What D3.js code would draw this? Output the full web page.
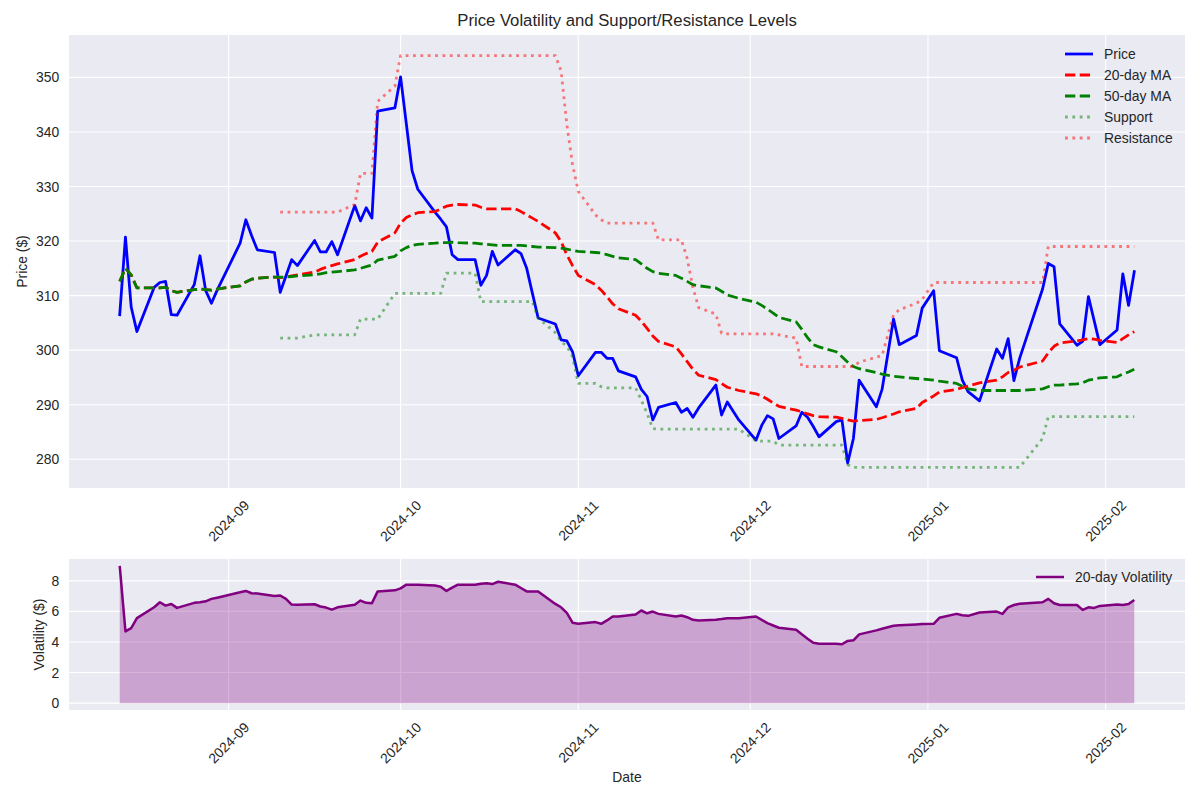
<!DOCTYPE html>
<html><head><meta charset="utf-8">
<script src="https://cdn.jsdelivr.net/npm/d3@7"></script>
<style>
body{margin:0;background:#fff;}
text{font-family:"Liberation Sans",Arial,sans-serif;fill:#262626;}
</style>
</head><body>
<svg id="c" width="1200" height="800"></svg>
<script>
// ---------- data (trading days) ----------
const dates = [
"2024-08-13","2024-08-14","2024-08-15","2024-08-16","2024-08-19","2024-08-20","2024-08-21","2024-08-22","2024-08-23","2024-08-26","2024-08-27","2024-08-28","2024-08-29","2024-08-30",
"2024-09-03","2024-09-04","2024-09-05","2024-09-06","2024-09-09","2024-09-10","2024-09-11","2024-09-12","2024-09-13","2024-09-16","2024-09-17","2024-09-18","2024-09-19","2024-09-20","2024-09-23","2024-09-24","2024-09-25","2024-09-26","2024-09-27","2024-09-30",
"2024-10-01","2024-10-02","2024-10-03","2024-10-04","2024-10-07","2024-10-08","2024-10-09","2024-10-10","2024-10-11","2024-10-14","2024-10-15","2024-10-16","2024-10-17","2024-10-18","2024-10-21","2024-10-22","2024-10-23","2024-10-24","2024-10-25","2024-10-28","2024-10-29","2024-10-30","2024-10-31",
"2024-11-01","2024-11-04","2024-11-05","2024-11-06","2024-11-07","2024-11-08","2024-11-11","2024-11-12","2024-11-13","2024-11-14","2024-11-15","2024-11-18","2024-11-19","2024-11-20","2024-11-21","2024-11-22","2024-11-25","2024-11-26","2024-11-27","2024-11-29",
"2024-12-02","2024-12-03","2024-12-04","2024-12-05","2024-12-06","2024-12-09","2024-12-10","2024-12-11","2024-12-12","2024-12-13","2024-12-16","2024-12-17","2024-12-18","2024-12-19","2024-12-20","2024-12-23","2024-12-24","2024-12-26","2024-12-27","2024-12-30","2024-12-31",
"2025-01-02","2025-01-03","2025-01-06","2025-01-07","2025-01-08","2025-01-10","2025-01-13","2025-01-14","2025-01-15","2025-01-16","2025-01-17","2025-01-21","2025-01-22","2025-01-23","2025-01-24","2025-01-27","2025-01-28","2025-01-29","2025-01-30","2025-01-31",
"2025-02-03","2025-02-04","2025-02-05","2025-02-06"];

const price = [
306.5,320.7,307.9,303.4,311.5,312.4,312.6,306.5,306.4,312.0,317.3,310.9,308.6,311.0,
319.6,323.9,321.0,318.4,317.9,310.6,313.6,316.6,315.5,320.1,318.0,318.0,319.9,317.5,326.5,323.7,326.1,324.2,343.8,344.4,
350.1,341.5,332.9,329.5,325.3,324.0,322.6,317.5,316.6,316.6,311.9,313.7,318.1,315.6,318.4,317.7,315.0,310.4,305.9,304.8,301.9,301.7,299.7,
295.3,299.6,299.6,298.5,298.5,296.2,295.1,292.8,291.5,287.2,289.5,290.4,288.6,289.3,287.7,289.4,293.6,288.1,290.5,287.2,
283.5,286.2,288.0,287.4,283.8,286.1,288.6,287.7,286.0,284.1,286.9,287.2,279.3,283.8,294.5,289.6,292.8,305.7,301.0,302.7,307.7,
310.9,299.9,298.6,294.5,292.4,290.7,300.2,298.5,302.1,294.4,298.5,311.2,315.9,315.3,304.8,300.9,301.6,309.8,305.4,301.0,
303.7,314.0,308.2,314.4];

const ma20 = [
312.6,315.0,313.8,311.4,311.4,311.4,311.5,310.9,310.6,311.1,311.2,311.1,311.0,311.2,
311.8,312.5,313.0,313.2,313.4,313.3,313.4,313.6,313.8,314.3,314.8,315.2,315.5,315.8,316.6,317.2,317.7,318.1,319.8,321.5,
323.3,324.3,324.8,325.2,325.4,325.9,326.4,326.6,326.7,326.6,326.2,325.9,325.9,325.9,325.9,325.4,324.8,324.2,323.6,321.5,319.9,317.5,315.5,
313.7,312.0,311.0,309.8,308.5,307.6,306.4,305.3,304.0,302.6,301.6,300.6,299.3,297.9,296.5,295.4,294.6,293.9,293.2,292.6,
292.0,291.6,291.0,290.3,289.7,289.0,288.7,288.3,288.0,287.8,287.7,287.5,287.2,287.0,287.1,287.3,287.6,288.3,288.7,289.3,290.4,
291.6,292.3,292.8,293.1,293.4,294.0,294.5,295.1,295.9,296.3,296.9,298.0,299.5,300.7,301.3,301.7,301.9,302.1,302.0,301.8,
301.4,302.1,302.8,303.4];

const ma50 = [
312.6,315.0,313.8,311.4,311.4,311.4,311.5,310.9,310.6,311.1,311.2,311.1,311.0,311.2,
311.8,312.5,313.0,313.2,313.4,313.4,313.4,313.5,313.6,313.8,314.0,314.2,314.3,314.4,314.7,315.0,315.3,315.6,316.5,317.2,
318.2,318.8,319.2,319.4,319.6,319.7,319.7,319.8,319.7,319.6,319.5,319.4,319.3,319.2,319.2,319.2,319.1,319.0,318.9,318.8,318.7,318.5,318.3,
318.1,317.9,317.8,317.5,317.2,316.9,316.6,315.8,315.0,314.4,314.1,313.7,313.2,312.6,312.0,311.8,311.4,310.8,310.1,309.5,
308.8,308.2,307.5,306.8,306.0,305.2,303.8,302.3,301.0,300.6,299.7,298.8,297.8,297.0,296.6,295.9,295.6,295.2,295.1,294.8,294.7,
294.5,294.3,293.9,293.4,292.9,292.6,292.6,292.6,292.6,292.6,292.6,292.9,293.3,293.6,293.6,293.8,294.0,294.5,294.7,294.9,
295.1,295.6,296.0,296.5];

const support = [
null,null,null,null,null,null,null,null,null,null,null,null,null,null,
null,null,null,null,null,302.2,302.2,302.2,302.2,302.8,302.8,302.8,302.8,302.8,302.8,305.7,305.7,305.7,305.7,310.4,
310.4,310.4,310.4,310.4,310.4,310.4,314.1,314.1,314.1,314.1,308.9,308.9,308.9,308.9,308.9,308.9,308.9,308.9,305.9,303.2,301.6,300.7,298.8,
293.9,293.9,293.3,293.1,293.1,293.1,293.1,290.8,288.4,285.6,285.5,285.5,285.5,285.5,285.5,285.5,285.5,285.5,285.5,285.5,
283.4,283.3,283.3,283.3,282.6,282.6,282.6,282.6,282.6,282.6,282.6,282.6,279.0,278.5,278.5,278.5,278.5,278.5,278.5,278.5,278.5,
278.5,278.5,278.5,278.5,278.5,278.5,278.5,278.5,278.5,278.5,278.5,283.8,287.8,287.8,287.8,287.8,287.8,287.8,287.8,287.8,
287.8,287.8,287.8,287.8];

const resistance = [
null,null,null,null,null,null,null,null,null,null,null,null,null,null,
null,null,null,null,null,325.3,325.3,325.3,325.3,325.3,325.3,325.3,325.3,325.3,326.7,332.4,332.4,332.4,345.6,348.4,
354.0,354.0,354.0,354.0,354.0,354.0,354.0,354.0,354.0,354.0,354.0,354.0,354.0,354.0,354.0,354.0,354.0,354.0,354.0,354.0,351.2,341.4,334.0,
329.1,324.8,323.9,323.3,323.3,323.3,323.3,323.3,323.3,323.3,320.2,320.2,320.2,316.8,311.5,307.8,306.6,303.1,303.0,303.0,
303.0,303.0,303.0,303.0,302.8,302.2,297.0,297.0,297.0,297.0,297.0,297.0,297.0,297.0,297.8,298.7,299.0,306.5,307.4,308.6,309.3,
312.4,312.4,312.4,312.4,312.4,312.4,312.4,312.4,312.4,312.4,312.4,312.4,319.0,319.0,319.0,319.0,319.0,319.0,319.0,319.0,
319.0,319.0,319.0,319.0];

const volatility = [
8.98,4.69,4.91,5.56,6.27,6.60,6.38,6.49,6.23,6.56,6.60,6.66,6.82,6.90,
7.25,7.34,7.19,7.17,7.01,7.04,6.82,6.45,6.43,6.47,6.32,6.25,6.12,6.27,6.43,6.71,6.56,6.54,7.31,7.38,
7.51,7.75,7.75,7.75,7.70,7.62,7.34,7.56,7.75,7.75,7.81,7.84,7.79,7.94,7.75,7.53,7.31,7.31,7.31,6.49,6.27,5.90,5.26,
5.19,5.30,5.19,5.41,5.67,5.67,5.80,6.06,5.88,5.99,5.84,5.67,5.73,5.62,5.45,5.41,5.45,5.50,5.56,5.56,
5.67,5.45,5.23,5.08,4.93,4.80,4.50,4.22,3.95,3.89,3.88,3.85,4.07,4.11,4.50,4.76,4.87,5.06,5.10,5.15,5.17,
5.19,5.58,5.84,5.75,5.71,5.93,5.99,5.84,6.27,6.42,6.50,6.60,6.82,6.53,6.42,6.42,6.10,6.27,6.23,6.36,
6.45,6.42,6.49,6.75];

const priceTicks = [280,290,300,310,320,330,340,350];
const volTicks = [0,2,4,6,8];
const legendTop = ["Price","20-day MA","50-day MA","Support","Resistance"];
const legendBottom = ["20-day Volatility"];

// ---------- layout ----------
const svg = d3.select("#c");
const parse = d3.utcParse("%Y-%m-%d");
const D = dates.map(parse);
const DAY = 864e5;
const A1 = {l:69, r:1185, t:35, b:488};
const A2 = {l:69, r:1185, t:559, b:710};
const BG = "#EAEAF2";
const FS = 13.9;

const span = D[D.length-1] - D[0];
const x = d3.scaleUtc()
  .domain([new Date(+D[0] - span*0.05), new Date(+D[D.length-1] + span*0.05)])
  .range([A1.l, A1.r]);

const allP = price.concat(ma20, ma50, support, resistance).filter(v => v != null);
const pmin = d3.min(allP), pmax = d3.max(allP), pp = (pmax - pmin) * 0.05;
const y = d3.scaleLinear().domain([pmin - pp, pmax + pp]).range([A1.b, A1.t]);
const vmax = d3.max(volatility), vp = vmax * 0.05;
const yv = d3.scaleLinear().domain([0 - vp, vmax + vp]).range([A2.b, A2.t]);

const monthTicks = d3.utcMonth.range(d3.utcMonth.ceil(x.domain()[0]), x.domain()[1]);
const fmt = d3.utcFormat("%Y-%m");

function panel(A, ys, yt, yfmt) {
  svg.append("rect").attr("x", A.l).attr("y", A.t).attr("width", A.r - A.l).attr("height", A.b - A.t).attr("fill", BG);
  const g = svg.append("g");
  g.selectAll(".gx").data(monthTicks).join("line")
    .attr("x1", d => x(d)).attr("x2", d => x(d)).attr("y1", A.t).attr("y2", A.b)
    .attr("stroke", "#fff").attr("stroke-width", 1.1);
  g.selectAll(".gy").data(yt).join("line")
    .attr("x1", A.l).attr("x2", A.r).attr("y1", d => ys(d)).attr("y2", d => ys(d))
    .attr("stroke", "#fff").attr("stroke-width", 1.1);
  // y tick labels
  svg.append("g").selectAll("text").data(yt).join("text")
    .attr("x", A.l - 9.7).attr("y", d => ys(d)).attr("text-anchor", "end")
    .attr("dominant-baseline", "central").attr("font-size", FS).text(yfmt);
  // x tick labels rotated 45
  const tg = svg.append("g");
  monthTicks.forEach(d => {
    const t = tg.append("text").attr("font-size", FS).attr("text-anchor", "middle")
      .attr("dominant-baseline", "central").text(fmt(d));
    const bb = t.node().getBBox();
    const ext = (bb.width + FS * 1.0) / Math.SQRT2;
    const cx = x(d), cy = A.b + 9.7 + ext / 2;
    t.attr("transform", `translate(${cx},${cy}) rotate(-45)`);
  });
}

panel(A1, y, priceTicks, d => d);
panel(A2, yv, volTicks, d => d);

// ---------- top panel series ----------
const gTop = svg.append("g");
function lineFor(vals, scale) {
  return d3.line().defined((d, i) => vals[i] != null).x((d, i) => x(D[i])).y((d, i) => scale(vals[i]))(vals);
}
const LW = 2.78;
const styles = [
  {vals: price, color: "#0000ff", dash: null, op: 1},
  {vals: ma20, color: "#ff0000", dash: "10.3,4.45", op: 1},
  {vals: ma50, color: "#008000", dash: "10.3,4.45", op: 1},
  {vals: support, color: "#008000", dash: "2.78,4.59", op: 0.5},
  {vals: resistance, color: "#ff0000", dash: "2.78,4.59", op: 0.5}
];
styles.forEach(s => {
  gTop.append("path").attr("d", lineFor(s.vals, y)).attr("fill", "none")
    .attr("stroke", s.color).attr("stroke-width", LW).attr("stroke-opacity", s.op)
    .attr("stroke-dasharray", s.dash).attr("stroke-linejoin", "round")
    .attr("stroke-linecap", s.dash ? "butt" : "square");
});

// legend top
const lg = svg.append("g");
legendTop.forEach((name, i) => {
  const s = styles[i];
  const yy = 54 + i * 21;
  lg.append("line").attr("x1", 1065).attr("x2", 1093).attr("y1", yy).attr("y2", yy)
    .attr("stroke", s.color).attr("stroke-width", LW).attr("stroke-opacity", s.op)
    .attr("stroke-dasharray", s.dash);
  lg.append("text").attr("x", 1104).attr("y", yy).attr("dominant-baseline", "central")
    .attr("font-size", FS).text(name);
});

// ---------- bottom panel ----------
const area = d3.area().x((d, i) => x(D[i])).y0(yv(0)).y1(d => yv(d));
svg.append("path").attr("d", area(volatility)).attr("fill", "#800080").attr("fill-opacity", 0.3);
svg.append("path").attr("d", d3.line().x((d, i) => x(D[i])).y(d => yv(d))(volatility))
  .attr("fill", "none").attr("stroke", "#800080").attr("stroke-width", 2.5).attr("stroke-linejoin", "round");
legendBottom.forEach((name, i) => {
  const yy = 577;
  svg.append("line").attr("x1", 1036).attr("x2", 1064).attr("y1", yy).attr("y2", yy)
    .attr("stroke", "#800080").attr("stroke-width", 2.5);
  svg.append("text").attr("x", 1075).attr("y", yy).attr("dominant-baseline", "central")
    .attr("font-size", FS).text(name);
});

// ---------- titles & labels ----------
svg.append("text").attr("x", (A1.l + A1.r) / 2).attr("y", 26).attr("text-anchor", "middle")
  .attr("font-size", 16.7).text("Price Volatility and Support/Resistance Levels");
svg.append("text").attr("transform", `translate(22,${(A1.t + A1.b) / 2}) rotate(-90)`)
  .attr("text-anchor", "middle").attr("dominant-baseline", "central").attr("font-size", FS).text("Price ($)");
svg.append("text").attr("transform", `translate(39,${(A2.t + A2.b) / 2}) rotate(-90)`)
  .attr("text-anchor", "middle").attr("dominant-baseline", "central").attr("font-size", FS).text("Volatility ($)");
svg.append("text").attr("x", (A2.l + A2.r) / 2).attr("y", 777).attr("text-anchor", "middle")
  .attr("dominant-baseline", "central").attr("font-size", FS).text("Date");
</script>
</body></html>
